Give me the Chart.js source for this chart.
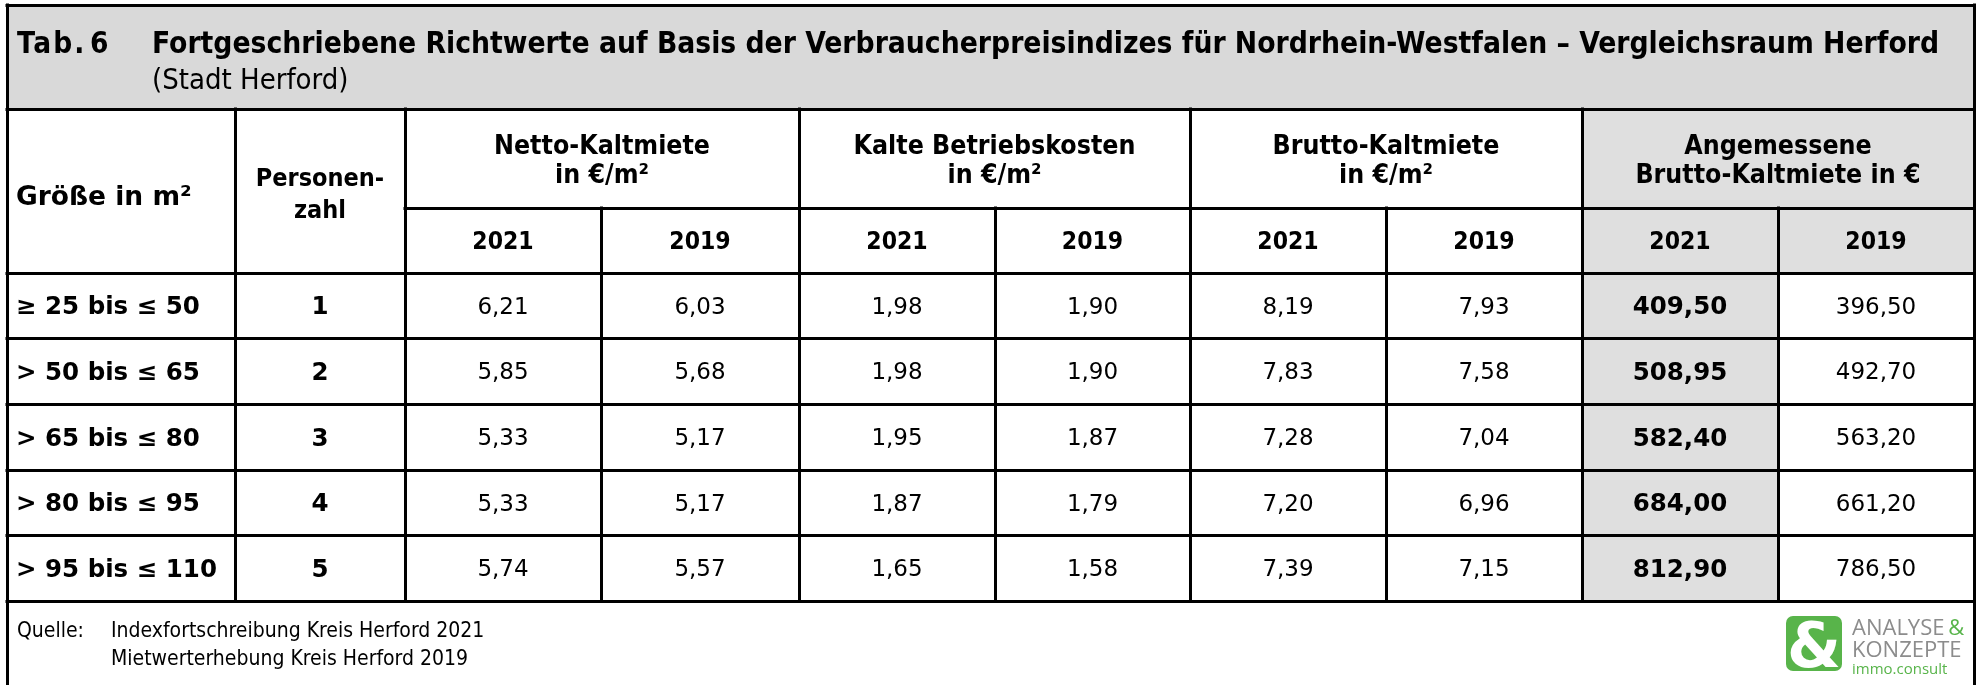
<!DOCTYPE html>
<html><head><meta charset="utf-8">
<script src="https://cdn.jsdelivr.net/npm/chart.js@4/dist/chart.umd.min.js"></script>
<style>html,body{margin:0;padding:0;background:#fff;overflow:hidden}#wrap{width:1982px;height:685px;position:relative}</style>
</head><body><div id="wrap"><canvas id="c" width="1982" height="685"></canvas></div>
<script>
// ---------- data ----------
const tableNumber = ["Tab.", "6"];
const titleText = "Fortgeschriebene Richtwerte auf Basis der Verbraucherpreisindizes für Nordrhein-Westfalen – Vergleichsraum Herford";
const subtitleText = "(Stadt Herford)";
const sizeHeader = "Größe in m²";
const personsHeader = ["Personen-", "zahl"];
const groupHeaders = [["Netto-Kaltmiete", "in €/m²"], ["Kalte Betriebskosten", "in €/m²"], ["Brutto-Kaltmiete", "in €/m²"], ["Angemessene", "Brutto-Kaltmiete in €"]];
const years = ["2021", "2019"];
const sizeClasses = ["≥ 25 bis ≤ 50", "> 50 bis ≤ 65", "> 65 bis ≤ 80", "> 80 bis ≤ 95", "> 95 bis ≤ 110"];
const persons = [1, 2, 3, 4, 5];
const netto2021 = [6.21, 5.85, 5.33, 5.33, 5.74];
const netto2019 = [6.03, 5.68, 5.17, 5.17, 5.57];
const kalte2021 = [1.98, 1.98, 1.95, 1.87, 1.65];
const kalte2019 = [1.90, 1.90, 1.87, 1.79, 1.58];
const brutto2021 = [8.19, 7.83, 7.28, 7.20, 7.39];
const brutto2019 = [7.93, 7.58, 7.04, 6.96, 7.15];
const angem2021 = [409.50, 508.95, 582.40, 684.00, 812.90];
const angem2019 = [396.50, 492.70, 563.20, 661.20, 786.50];
const sourceLabel = "Quelle:";
const sources = ["Indexfortschreibung Kreis Herford 2021", "Mietwerterhebung Kreis Herford 2019"];
const logoLines = ["ANALYSE", "KONZEPTE", "immo.consult"];

// ---------- layout (table units) ----------
const colWidths = [228, 170, 196, 198, 196, 195, 196, 196, 196, 196];
const rowHeights = [104, 99, 65, 65, 66, 66, 65, 66, 84];
const colEdges = [0]; colWidths.forEach(w => colEdges.push(colEdges[colEdges.length - 1] + w));
const rowEdges = [0]; rowHeights.forEach(h => rowEdges.push(rowEdges[rowEdges.length - 1] + h));
const TW = colEdges[colEdges.length - 1], TH = rowEdges[rowEdges.length - 1];

const valueCols = [netto2021, netto2019, kalte2021, kalte2019, brutto2021, brutto2019, angem2021, angem2019];
const COND = '"DejaVu Sans Condensed", "DejaVu Sans", sans-serif';
const NORM = '"DejaVu Sans", sans-serif';
const GREY_TITLE = '#d9d9d9', GREY_CELL = '#dfdfdf', GREEN = '#58b44a';

const fmt = v => v.toFixed(2).replace('.', ',');

const tablePlugin = {
  id: 'table',
  afterDraw(chart) {
    const ctx = chart.ctx, xs = chart.scales.x, ys = chart.scales.y;
    const X = v => Math.round(xs.getPixelForValue(v));
    const Y = v => Math.round(ys.getPixelForValue(v));
    ctx.save();
    const text = (s, x, yc, st, align, color) => {
      try { ctx.fontStretch = st.cond ? 'condensed' : 'normal'; } catch (e) {}
      try { ctx.letterSpacing = (st.ls || 0) + 'px'; } catch (e) {}
      ctx.font = (st.bold ? 'bold ' : '') + st.size + 'px ' + (st.cond ? COND : NORM);
      ctx.textAlign = align; ctx.textBaseline = 'alphabetic';
      ctx.fillStyle = color || '#000';
      let xx = x;
      if (align === 'center' && st.ls) xx = x + st.ls / 2;
      ctx.fillText(s, xx, yc + 0.36 * st.size);
    };
    const S = {
      title: { size: 29.7, bold: true, cond: true },
      tab: { size: 29.5, bold: true, cond: true, ls: 2 },
      sub: { size: 29, bold: false, cond: true },
      group: { size: 26.5, bold: true, cond: true },
      pers: { size: 25, bold: true, cond: true },
      size: { size: 26.5, bold: true, cond: false },
      year: { size: 24.5, bold: true, cond: true },
      rowLab: { size: 24.5, bold: true, cond: false },
      val: { size: 23, bold: false, cond: false },
      valB: { size: 24.5, bold: true, cond: false },
      foot: { size: 21, bold: false, cond: true }
    };
    // backgrounds
    ctx.fillStyle = GREY_TITLE;
    ctx.fillRect(X(0), Y(0), X(TW) - X(0), Y(rowEdges[1]) - Y(0));
    ctx.fillStyle = GREY_CELL;
    ctx.fillRect(X(colEdges[8]), Y(rowEdges[1]), X(TW) - X(colEdges[8]), Y(rowEdges[3]) - Y(rowEdges[1]));
    ctx.fillRect(X(colEdges[8]), Y(rowEdges[3]), X(colEdges[9]) - X(colEdges[8]), Y(rowEdges[8]) - Y(rowEdges[3]));

    // title
    text(tableNumber[0], X(10), Y(37), S.tab, 'left');
    text(tableNumber[1], X(83), Y(37), S.tab, 'left');
    text(titleText, X(145), Y(37), S.title, 'left');
    text(subtitleText, X(145), Y(74), S.sub, 'left');

    const cx = i => (X(colEdges[i]) + X(colEdges[i + 1])) / 2;
    const cy = j => (Y(rowEdges[j]) + Y(rowEdges[j + 1])) / 2;
    // header
    text(sizeHeader, X(9), (Y(rowEdges[1]) + Y(rowEdges[3])) / 2 + 4, S.size, 'left');
    const pc = (Y(rowEdges[1]) + Y(rowEdges[3])) / 2 + 2;
    text(personsHeader[0], cx(1), pc - 16, S.pers, 'center');
    text(personsHeader[1], cx(1), pc + 16, S.pers, 'center');
    groupHeaders.forEach((g, k) => {
      const x = (X(colEdges[2 + 2 * k]) + X(colEdges[4 + 2 * k])) / 2;
      const c = cy(1);
      text(g[0], x, c - 14.5, S.group, 'center');
      text(g[1], x, c + 14.5, S.group, 'center');
    });
    for (let i = 2; i < 10; i++) text(years[(i - 2) % 2], cx(i), cy(2), S.year, 'center');

    // body
    for (let r = 0; r < sizeClasses.length; r++) {
      const yc = cy(3 + r);
      text(sizeClasses[r], X(9), yc, S.rowLab, 'left');
      text(String(persons[r]), cx(1), yc, S.rowLab, 'center');
      valueCols.forEach((col, k) => {
        text(fmt(col[r]), cx(2 + k), yc, k === 6 ? S.valB : S.val, 'center');
      });
    }

    // footer
    const fy = Y(rowEdges[8]);
    text(sourceLabel, X(10), fy + 28, S.foot, 'left');
    text(sources[0], X(104), fy + 28, S.foot, 'left');
    text(sources[1], X(104), fy + 56, S.foot, 'left');

    // logo
    try { ctx.fontStretch = 'normal'; ctx.letterSpacing = '0px'; } catch (e) {}
    const lx = X(1779), ly = fy + 15;
    ctx.fillStyle = GREEN;
    ctx.beginPath(); ctx.roundRect(lx, ly, 56, 55, 7); ctx.fill();
    ctx.font = 'bold 62px "DejaVu Sans", sans-serif';
    ctx.fillStyle = '#fff'; ctx.textAlign = 'center'; ctx.textBaseline = 'alphabetic';
    ctx.fillText('&', lx + 28, ly + 51);
    ctx.textAlign = 'left';
    ctx.font = '22px "Open Sans", sans-serif';
    ctx.fillStyle = '#8c8c8c';
    ctx.fillText(logoLines[0], lx + 66, ly + 19);
    const aw = ctx.measureText(logoLines[0] + ' ').width;
    ctx.fillStyle = GREEN;
    ctx.fillText('&', lx + 66 + aw - 2, ly + 19);
    ctx.fillStyle = '#8c8c8c';
    ctx.fillText(logoLines[1], lx + 66, ly + 41);
    ctx.fillStyle = GREEN;
    ctx.font = '15px "Open Sans", sans-serif';
    ctx.fillText(logoLines[2], lx + 66, ly + 58);

    // grid lines
    ctx.strokeStyle = '#000'; ctx.lineWidth = 3; ctx.lineCap = 'square';
    const h = (v, a, b) => { const y = Y(v) + 0.5; ctx.beginPath(); ctx.moveTo(X(a), y); ctx.lineTo(X(b), y); ctx.stroke(); };
    const vl = (v, a, b) => { const x = X(v) + 0.5; ctx.beginPath(); ctx.moveTo(x, Y(a)); ctx.lineTo(x, Y(b)); ctx.stroke(); };
    h(0, 0, TW);
    h(rowEdges[1], 0, TW);
    h(rowEdges[2], colEdges[2], TW);
    for (let j = 3; j <= 8; j++) h(rowEdges[j], 0, TW);
    vl(0, 0, TH); vl(TW, 0, TH);
    [1, 2, 4, 6, 8].forEach(i => vl(colEdges[i], rowEdges[1], rowEdges[8]));
    [3, 5, 7, 9].forEach(i => vl(colEdges[i], rowEdges[2], rowEdges[8]));
    ctx.restore();
  }
};

new Chart(document.getElementById('c'), {
  type: 'scatter',
  data: { datasets: [] },
  options: {
    responsive: false, animation: false, devicePixelRatio: 1,
    layout: { padding: { left: 7, top: 5, right: 8, bottom: 0 } },
    plugins: { legend: { display: false }, tooltip: { enabled: false } },
    scales: {
      x: { type: 'linear', min: 0, max: TW, display: false },
      y: { type: 'linear', min: 0, max: TH, reverse: true, display: false }
    }
  },
  plugins: [tablePlugin]
});
</script>
</body></html>
